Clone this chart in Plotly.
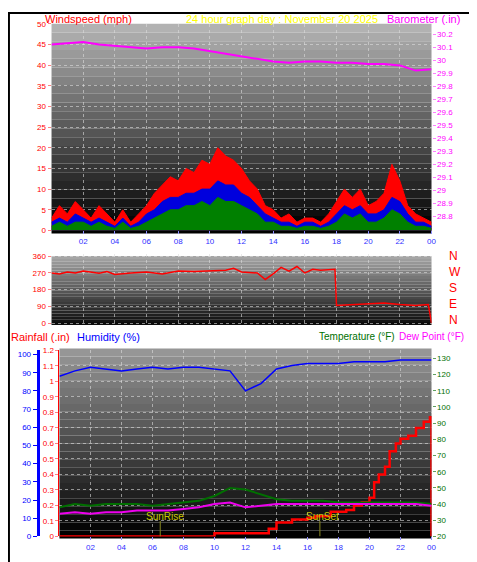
import plotly.graph_objects as go

W, H = 477, 562

# --- data (half hourly wind, hourly others) ---
wind_gust = [3,6,4,7,5,3,6,4,2,5, 2,4,6,9,11,13,12,15,14,17, 16,20,18,17,15,12,10,6,5,3,
             4,2,3,3,2,4,7,10,8,10, 6,7,9,16,12,6,4,3,2]
wind_avg = [2,3,2,4,3,2,3,2,1,3, 1,2,4,5,7,8,8,9,9,10, 10,12,11,11,9,8,6,4,3,2,
            2,1,2,2,1,2,4,6,5,6, 4,4,5,8,7,4,2,2,1]
wind_low = [1,2,1,2,2,1,2,1,0.5,2, 0.5,1,2,3,4,5,5,6,6,7, 6,8,7,7,6,5,4,2,2,1,
            1,0.5,1,1,0.5,1,2,4,3,4, 2,2,3,5,4,2,1,1,0.5]
wind_t = [i * 0.5 for i in range(len(wind_gust))]

hours = list(range(25))
baro = [30.12,30.13,30.14,30.12,30.11,30.10,30.09,30.10,30.10,30.09,30.07,30.05,30.03,
        30.01,29.99,29.98,29.99,29.99,29.98,29.98,29.97,29.97,29.96,29.92,29.93]

dir_t = [0,0.5,1,1.5,2,2.5,3,3.5,4,5,6,7,8,9,10,11,11.5,12,13,13.5,14,14.5,15,15.5,16,16.5,17,17.9,18,19,20,21,22,23,23.8,24]
dir_v = [270,265,275,270,280,272,268,278,262,270,275,265,280,278,282,285,295,275,270,235,265,300,280,305,270,290,285,290,95,100,105,108,100,95,100,0]

humidity = [88,91,93,92,91,92,93,92,93,93,92,91,80,84,92,94,95,95,95,96,96,96,97,97,97]
rain_t = [0,10,13.2,13.5,14,15,16,16.5,17.5,18.5,19,19.5,20,20.3,20.6,21,21.3,21.7,22,22.5,23,23.5,23.9,24]
rain_v = [0,0.02,0.02,0.05,0.09,0.11,0.12,0.13,0.16,0.17,0.2,0.22,0.25,0.35,0.4,0.45,0.55,0.6,0.63,0.65,0.7,0.74,0.77,0]
temp = [38,40,39,40,40,40,39,40,41,42,45,50,49,46,43,42,42,42,41,41,41,41,41,41,40]
dew = [34,35,34,35,35,36,36,36,37,38,40,41,38,39,40,40,40,40,40,40,40,40,40,40,39]

tick_vals = list(range(2, 25, 2))
tick_text = ["02","04","06","08","10","12","14","16","18","20","22","00"]
baro_ticks = [28.8,28.9,29.0,29.1,29.2,29.3,29.4,29.5,29.6,29.7,29.8,29.9,30.0,30.1,30.2]
baro_text = ["28.8","28.9","29","29.1","29.2","29.3","29.4","29.5","29.6","29.7","29.8","29.9","30","30.1","30.2"]
rain_ticks = [0,0.1,0.2,0.3,0.4,0.5,0.6,0.7,0.8,0.9,1.0,1.1,1.2]
rain_text = ["0","0.1","0.2","0.3","0.4","0.5","0.6","0.7","0.8","0.9","1","1.1","1.2"]

def px(x):
    return x / W

def py(y):
    return 1 - y / H

FONT = "Liberation Sans"
fig = go.Figure()

# top panel
fig.add_trace(go.Scatter(x=wind_t, y=wind_gust, mode="lines", line=dict(color="red", width=1),
                         fill="tozeroy", fillcolor="red", xaxis="x", yaxis="y"))
fig.add_trace(go.Scatter(x=wind_t, y=wind_avg, mode="lines", line=dict(color="#0000dd", width=1),
                         fill="tozeroy", fillcolor="#0000dd", xaxis="x", yaxis="y"))
fig.add_trace(go.Scatter(x=wind_t, y=wind_low, mode="lines", line=dict(color="#008000", width=1),
                         fill="tozeroy", fillcolor="#008000", xaxis="x", yaxis="y"))
fig.add_trace(go.Scatter(x=hours, y=baro, mode="lines", line=dict(color="#ff00ff", width=2),
                         xaxis="x", yaxis="y2"))
# direction
fig.add_trace(go.Scatter(x=dir_t, y=dir_v, mode="lines", line=dict(color="red", width=1.5),
                         xaxis="x2", yaxis="y3"))
# bottom panel
fig.add_trace(go.Scatter(x=hours, y=temp, mode="lines", line=dict(color="#007000", width=2),
                         xaxis="x3", yaxis="y6"))
fig.add_trace(go.Scatter(x=hours, y=dew, mode="lines", line=dict(color="#ee00ee", width=2),
                         xaxis="x3", yaxis="y6"))
fig.add_trace(go.Scatter(x=hours, y=humidity, mode="lines", line=dict(color="#0000ff", width=1.5),
                         xaxis="x3", yaxis="y5"))
fig.add_trace(go.Scatter(x=rain_t, y=rain_v, mode="lines", line=dict(color="red", width=2.5, shape="hv"),
                         xaxis="x3", yaxis="y4"))
fig.add_trace(go.Scatter(x=[6.5, 6.5, None, 16.8, 16.8], y=[0, 0.1, None, 0, 0.1], mode="lines",
                         line=dict(color="#8a8a20", width=1), xaxis="x3", yaxis="y4"))

panels = [(44, 428, 12, 225, 178, 0), (44, 428, 248, 318, 165, 12), (52, 428, 342, 535, 150, 0)]
shapes = []
n = 24
for x0, x1, y0, y1, top, bot in panels:
    for i in range(n):
        c = int(top + (bot - top) * i / (n - 1))
        ya = y0 + (y1 - y0) * i / n
        yb = y0 + (y1 - y0) * (i + 1) / n
        shapes.append(dict(type="rect", xref="paper", yref="paper", x0=px(x0), x1=px(x1),
                           y0=py(yb), y1=py(ya), fillcolor=f"rgb({c},{c},{c})",
                           line=dict(width=0), layer="below"))
shapes.append(dict(type="rect", xref="paper", yref="paper", x0=0.002, x1=0.998, y0=0.002, y1=0.998,
                   line=dict(color="black", width=2)))

grid = dict(showgrid=True, gridcolor="rgba(220,220,220,0.6)", griddash="dot", zeroline=False)
tickf = dict(size=8, family=FONT)
xcommon = dict(range=[0, 24], tickvals=tick_vals, ticktext=tick_text, tickfont=dict(color="#3030ff", **tickf),
               ticks="outside", ticklen=3, tickcolor="#9090ff", **grid)

annos = [
    dict(text="Windspeed (mph)", x=px(35), y=py(7), font=dict(color="red", size=11)),
    dict(text="24 hour graph day : November 20 2025", x=px(178), y=py(7), font=dict(color="yellow", size=11)),
    dict(text="Barometer (.in)", x=px(381), y=py(7), font=dict(color="#ff00ff", size=11)),
    dict(text="Rainfall (.in)", x=px(1), y=py(330), font=dict(color="red", size=11)),
    dict(text="Humidity (%)", x=px(68), y=py(330), font=dict(color="#0000ff", size=11)),
    dict(text="Temperature (°F)", x=px(312), y=py(330), font=dict(color="#007000", size=10)),
    dict(text="Dew Point (°F)", x=px(393), y=py(330), font=dict(color="#ff00ff", size=10)),
    dict(text="SunRise", x=px(137), y=py(513), font=dict(color="#c8c800", size=10)),
    dict(text="SunSet", x=px(299), y=py(513), font=dict(color="#c8c800", size=10)),
]
for i, lbl in enumerate(["N", "W", "S", "E", "N"]):
    annos.append(dict(text=lbl, x=px(444), y=py(248 + i * 16.2), font=dict(color="red", size=12)))
for a in annos:
    a.update(xref="paper", yref="paper", showarrow=False, xanchor="left", yanchor="middle")
    a["font"]["family"] = FONT

fig.update_layout(
    width=W, height=H, margin=dict(l=0, r=0, t=0, b=0),
    paper_bgcolor="white", plot_bgcolor="rgba(0,0,0,0)", showlegend=False,
    font=dict(family=FONT),
    shapes=shapes, annotations=annos,
    xaxis=dict(domain=[px(44), px(428)], anchor="y", **xcommon),
    yaxis=dict(domain=[py(222), py(12)], range=[0, 50], dtick=5, tickfont=dict(color="red", **tickf),
               ticks="outside", ticklen=3, tickcolor="#ff8080", **grid),
    yaxis2=dict(overlaying="y", side="right", range=[28.69, 30.28], tickvals=baro_ticks, ticktext=baro_text,
                tickfont=dict(color="#ff00ff", **tickf), ticks="outside", ticklen=3, tickcolor="#ff80ff",
                showgrid=False, zeroline=False, anchor="x"),
    xaxis2=dict(domain=[px(44), px(428)], anchor="y3", range=[0, 24], showticklabels=False,
                tickvals=tick_vals, **grid),
    yaxis3=dict(domain=[py(318), py(246)], range=[-10, 372], tickvals=[0, 90, 180, 270, 360],
                tickfont=dict(color="red", **tickf), ticks="outside", ticklen=3, tickcolor="#ff8080",
                anchor="x2", **grid),
    xaxis3=dict(domain=[px(52), px(428)], anchor="y4", **xcommon),
    yaxis4=dict(domain=[py(533), py(344)], range=[0, 1.2], tickvals=rain_ticks, ticktext=rain_text,
                tickfont=dict(color="red", **tickf), ticks="outside", ticklen=3, tickcolor="#ff8080",
                showline=True, linecolor="red", linewidth=1, anchor="x3", **grid),
    yaxis5=dict(overlaying="y4", range=[0, 102.2], dtick=10, anchor="free", position=px(30),
                tickfont=dict(color="#0000ff", **tickf), ticks="outside", ticklen=4, tickcolor="#0000ff",
                showline=True, linecolor="#0000ff", linewidth=3, showgrid=False, zeroline=False),
    yaxis6=dict(overlaying="y4", side="right", range=[20, 134.9], dtick=10, anchor="x3",
                tickfont=dict(color="#007000", **tickf), ticks="outside", ticklen=3, tickcolor="#60a060",
                showgrid=False, zeroline=False),
)

fig.write_html("out.html")
